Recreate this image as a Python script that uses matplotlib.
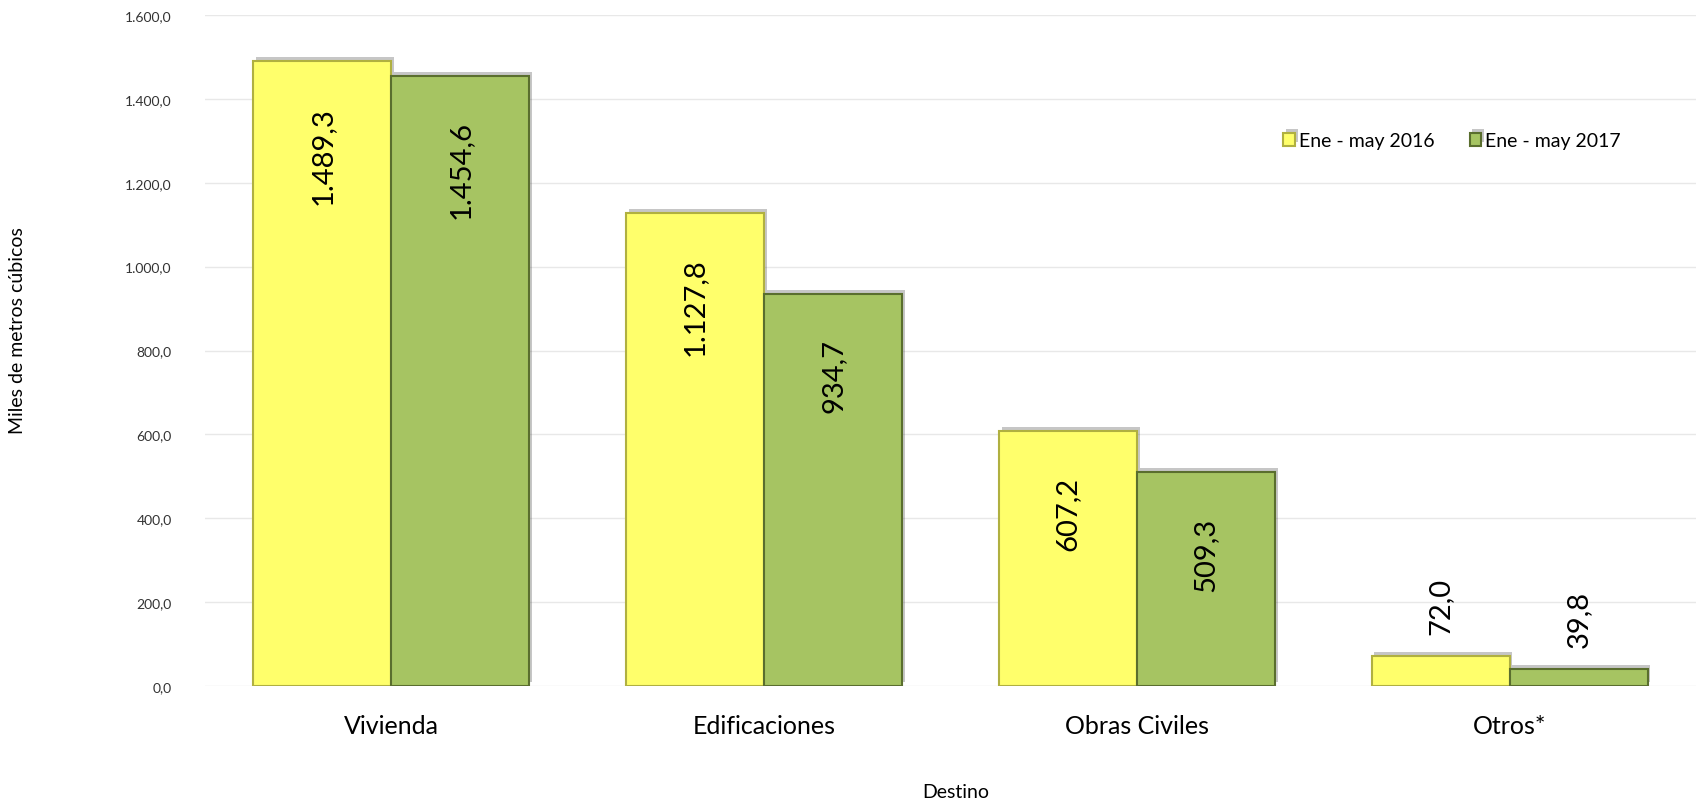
import numpy as np
import matplotlib
matplotlib.use("Agg")
from matplotlib import pyplot as plt
from matplotlib import patheffects as pe
from matplotlib.ticker import FuncFormatter

plt.rcParams['font.family'] = ['Lato', 'DejaVu Sans']

categories = ["Vivienda", "Edificaciones", "Obras Civiles", "Otros*"]
series_names = ["Ene - may 2016", "Ene - may 2017"]
values_2016 = [1489.3, 1127.8, 607.2, 72.0]
values_2017 = [1454.6, 934.7, 509.3, 39.8]


def es_fmt(v, decimals=1):
    s = f"{v:,.{decimals}f}"
    return s.replace(",", "X").replace(".", ",").replace("X", ".")


fig = plt.figure(figsize=(16.96, 8.04), dpi=100)
ax = fig.add_axes([205 / 1696, 1 - 687 / 804, 1 - 205 / 1696, (687 - 16) / 804])

x = np.arange(len(categories))
w = 0.37
shadow = [pe.SimplePatchShadow(offset=(2, 3), shadow_rgbFace="#444444", alpha=0.3), pe.Normal()]
bars1 = ax.bar(x - w / 2, values_2016, w, color="#FFFF6B", edgecolor="#B0B040",
               linewidth=1.5, label=series_names[0], path_effects=shadow, zorder=3)
bars2 = ax.bar(x + w / 2, values_2017, w, color="#A6C462", edgecolor="#5A6E2E",
               linewidth=1.5, label=series_names[1], path_effects=shadow, zorder=3)

for bars in (bars1, bars2):
    for b in bars:
        h = b.get_height()
        cx = b.get_x() + b.get_width() / 2
        if h > 300:
            ax.annotate(es_fmt(h), (cx, h), xytext=(0, -32), textcoords="offset points",
                        rotation=90, ha="center", va="top", fontsize=21, zorder=4)
        else:
            ax.annotate(es_fmt(h), (cx, h), xytext=(0, 16), textcoords="offset points",
                        rotation=90, ha="center", va="bottom", fontsize=21, zorder=4)

ax.set_ylim(0, 1600)
ax.set_xlim(-0.5, 3.5)
ax.set_yticks(np.arange(0, 1601, 200))
ax.yaxis.set_major_formatter(FuncFormatter(lambda v, p: es_fmt(v)))
ax.set_xticks(x)
ax.set_xticklabels(categories, fontsize=18)
ax.tick_params(axis="y", labelsize=10, length=0, pad=24, labelcolor="#333333")
ax.tick_params(axis="x", length=0, pad=20)
ax.grid(axis="y", color="#E8E8E8", linewidth=1, zorder=0)
ax.set_axisbelow(True)
for s in ax.spines.values():
    s.set_visible(False)

fig.text(18 / 1696, 1 - 331 / 804, "Miles de metros cúbicos", rotation=90,
         ha="center", va="center", fontsize=14)
fig.text(956 / 1696, 1 - 793 / 804, "Destino", ha="center", va="center", fontsize=14)

ax.legend(loc="center", bbox_to_anchor=(1452 / 1696, 1 - 142 / 804), bbox_transform=fig.transFigure,
          ncol=2, frameon=False, fontsize=14, handlelength=0.6, handleheight=0.6,
          handletextpad=0.2, columnspacing=1.8)

fig.savefig("out.png", dpi=100)
